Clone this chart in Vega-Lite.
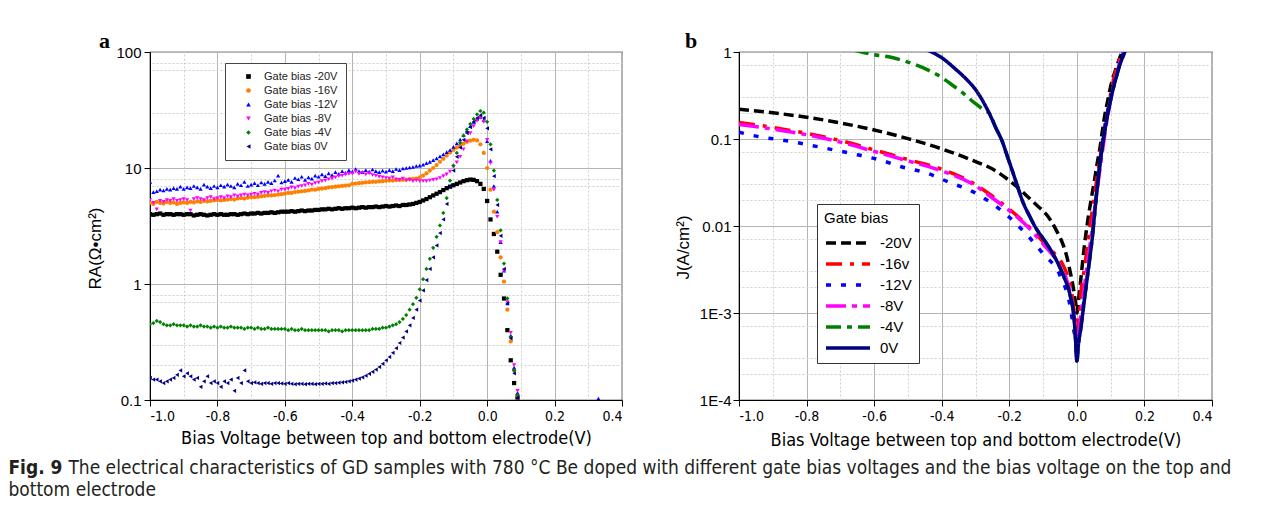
{
"$schema":"https://vega.github.io/schema/vega-lite/v6.json",
"background":"white",
"padding":{"left":8,"top":29,"right":4,"bottom":4},
"config":{
 "view":{"stroke":"black","strokeWidth":1.2},
 "axis":{"domainColor":"black","tickColor":"black","labelColor":"black","titleColor":"black","titleFontWeight":"normal","gridColor":"#b4b4b4","gridWidth":1}
},
"title":{"text":"The electrical characteristics of GD samples with 780 °C Be doped with different gate bias voltages and the bias voltage on the top and","orient":"bottom","anchor":"start","frame":"bounds","dx":60,"offset":-41,"font":"DejaVu Sans Condensed, DejaVu Sans, sans-serif","fontSize":19,"fontWeight":"normal","color":"#231f20"},
"resolve":{"scale":{"color":"independent","shape":"independent","strokeDash":"independent"},"legend":{"color":"independent","shape":"independent","strokeDash":"independent"}},
"datasets":{
"ra":[
{"s":"-20V","x":-1,"y":4.0},{"s":"-20V","x":-0.99,"y":3.95},{"s":"-20V","x":-0.98,"y":4.0},{"s":"-20V","x":-0.97,"y":4.05},{"s":"-20V","x":-0.96,"y":3.95},{"s":"-20V","x":-0.95,"y":4.0},{"s":"-20V","x":-0.94,"y":4.0},{"s":"-20V","x":-0.93,"y":3.95},{"s":"-20V","x":-0.92,"y":4.0},{"s":"-20V","x":-0.91,"y":4.0},
{"s":"-20V","x":-0.9,"y":3.95},{"s":"-20V","x":-0.89,"y":4.0},{"s":"-20V","x":-0.88,"y":4.0},{"s":"-20V","x":-0.87,"y":3.9},{"s":"-20V","x":-0.86,"y":3.95},{"s":"-20V","x":-0.85,"y":4.0},{"s":"-20V","x":-0.84,"y":3.95},{"s":"-20V","x":-0.83,"y":3.9},{"s":"-20V","x":-0.82,"y":3.95},{"s":"-20V","x":-0.81,"y":4.0},
{"s":"-20V","x":-0.8,"y":3.95},{"s":"-20V","x":-0.79,"y":4.0},{"s":"-20V","x":-0.78,"y":3.95},{"s":"-20V","x":-0.77,"y":3.95},{"s":"-20V","x":-0.76,"y":4.0},{"s":"-20V","x":-0.75,"y":4.0},{"s":"-20V","x":-0.74,"y":3.95},{"s":"-20V","x":-0.73,"y":4.0},{"s":"-20V","x":-0.72,"y":4.05},{"s":"-20V","x":-0.71,"y":4.0},
{"s":"-20V","x":-0.7,"y":4.05},{"s":"-20V","x":-0.69,"y":4.05},{"s":"-20V","x":-0.68,"y":4.1},{"s":"-20V","x":-0.67,"y":4.05},{"s":"-20V","x":-0.66,"y":4.1},{"s":"-20V","x":-0.65,"y":4.1},{"s":"-20V","x":-0.64,"y":4.15},{"s":"-20V","x":-0.63,"y":4.1},{"s":"-20V","x":-0.62,"y":4.15},{"s":"-20V","x":-0.61,"y":4.2},
{"s":"-20V","x":-0.6,"y":4.2},{"s":"-20V","x":-0.59,"y":4.2},{"s":"-20V","x":-0.58,"y":4.25},{"s":"-20V","x":-0.57,"y":4.2},{"s":"-20V","x":-0.56,"y":4.25},{"s":"-20V","x":-0.55,"y":4.3},{"s":"-20V","x":-0.54,"y":4.25},{"s":"-20V","x":-0.53,"y":4.3},{"s":"-20V","x":-0.52,"y":4.3},{"s":"-20V","x":-0.51,"y":4.35},
{"s":"-20V","x":-0.5,"y":4.35},{"s":"-20V","x":-0.49,"y":4.4},{"s":"-20V","x":-0.48,"y":4.4},{"s":"-20V","x":-0.47,"y":4.45},{"s":"-20V","x":-0.46,"y":4.4},{"s":"-20V","x":-0.45,"y":4.45},{"s":"-20V","x":-0.44,"y":4.5},{"s":"-20V","x":-0.43,"y":4.45},{"s":"-20V","x":-0.42,"y":4.5},{"s":"-20V","x":-0.41,"y":4.5},
{"s":"-20V","x":-0.4,"y":4.55},{"s":"-20V","x":-0.39,"y":4.5},{"s":"-20V","x":-0.38,"y":4.55},{"s":"-20V","x":-0.37,"y":4.6},{"s":"-20V","x":-0.36,"y":4.55},{"s":"-20V","x":-0.35,"y":4.6},{"s":"-20V","x":-0.34,"y":4.6},{"s":"-20V","x":-0.33,"y":4.65},{"s":"-20V","x":-0.32,"y":4.6},{"s":"-20V","x":-0.31,"y":4.65},
{"s":"-20V","x":-0.3,"y":4.7},{"s":"-20V","x":-0.29,"y":4.65},{"s":"-20V","x":-0.28,"y":4.7},{"s":"-20V","x":-0.27,"y":4.75},{"s":"-20V","x":-0.26,"y":4.7},{"s":"-20V","x":-0.25,"y":4.8},{"s":"-20V","x":-0.24,"y":4.8},{"s":"-20V","x":-0.23,"y":4.85},{"s":"-20V","x":-0.22,"y":4.9},{"s":"-20V","x":-0.21,"y":5.0},
{"s":"-20V","x":-0.2,"y":5.1},{"s":"-20V","x":-0.19,"y":5.25},{"s":"-20V","x":-0.18,"y":5.4},{"s":"-20V","x":-0.17,"y":5.6},{"s":"-20V","x":-0.16,"y":5.8},{"s":"-20V","x":-0.15,"y":6.0},{"s":"-20V","x":-0.14,"y":6.2},{"s":"-20V","x":-0.13,"y":6.45},{"s":"-20V","x":-0.12,"y":6.7},{"s":"-20V","x":-0.11,"y":6.9},
{"s":"-20V","x":-0.1,"y":7.1},{"s":"-20V","x":-0.09,"y":7.3},{"s":"-20V","x":-0.08,"y":7.5},{"s":"-20V","x":-0.07,"y":7.7},{"s":"-20V","x":-0.06,"y":7.85},{"s":"-20V","x":-0.05,"y":7.95},{"s":"-20V","x":-0.04,"y":7.9},{"s":"-20V","x":-0.03,"y":7.7},{"s":"-20V","x":-0.02,"y":7.3},{"s":"-20V","x":-0.01,"y":6.6},
{"s":"-20V","x":0,"y":5.2},{"s":"-20V","x":0.01,"y":3.6},{"s":"-20V","x":0.02,"y":2.7},{"s":"-20V","x":0.03,"y":1.9},{"s":"-20V","x":0.04,"y":1.2},{"s":"-20V","x":0.05,"y":0.75},{"s":"-20V","x":0.06,"y":0.4},{"s":"-20V","x":0.07,"y":0.22},{"s":"-20V","x":0.08,"y":0.14},{"s":"-20V","x":0.09,"y":0.105},
{"s":"-16V","x":-1,"y":5.0},{"s":"-16V","x":-0.99,"y":4.9},{"s":"-16V","x":-0.98,"y":5.1},{"s":"-16V","x":-0.97,"y":5.0},{"s":"-16V","x":-0.96,"y":4.95},{"s":"-16V","x":-0.95,"y":5.1},{"s":"-16V","x":-0.94,"y":5.0},{"s":"-16V","x":-0.93,"y":5.05},{"s":"-16V","x":-0.92,"y":4.9},{"s":"-16V","x":-0.91,"y":5.0},
{"s":"-16V","x":-0.9,"y":5.05},{"s":"-16V","x":-0.89,"y":5.0},{"s":"-16V","x":-0.88,"y":5.1},{"s":"-16V","x":-0.87,"y":5.05},{"s":"-16V","x":-0.86,"y":5.15},{"s":"-16V","x":-0.85,"y":5.1},{"s":"-16V","x":-0.84,"y":5.2},{"s":"-16V","x":-0.83,"y":5.15},{"s":"-16V","x":-0.82,"y":5.2},{"s":"-16V","x":-0.81,"y":5.25},
{"s":"-16V","x":-0.8,"y":5.3},{"s":"-16V","x":-0.79,"y":5.25},{"s":"-16V","x":-0.78,"y":5.3},{"s":"-16V","x":-0.77,"y":5.35},{"s":"-16V","x":-0.76,"y":5.4},{"s":"-16V","x":-0.75,"y":5.35},{"s":"-16V","x":-0.74,"y":5.45},{"s":"-16V","x":-0.73,"y":5.5},{"s":"-16V","x":-0.72,"y":5.45},{"s":"-16V","x":-0.71,"y":5.55},
{"s":"-16V","x":-0.7,"y":5.6},{"s":"-16V","x":-0.69,"y":5.6},{"s":"-16V","x":-0.68,"y":5.65},{"s":"-16V","x":-0.67,"y":5.7},{"s":"-16V","x":-0.66,"y":5.75},{"s":"-16V","x":-0.65,"y":5.8},{"s":"-16V","x":-0.64,"y":5.8},{"s":"-16V","x":-0.63,"y":5.85},{"s":"-16V","x":-0.62,"y":5.9},{"s":"-16V","x":-0.61,"y":5.95},
{"s":"-16V","x":-0.6,"y":6.0},{"s":"-16V","x":-0.59,"y":6.1},{"s":"-16V","x":-0.58,"y":6.1},{"s":"-16V","x":-0.57,"y":6.2},{"s":"-16V","x":-0.56,"y":6.25},{"s":"-16V","x":-0.55,"y":6.3},{"s":"-16V","x":-0.54,"y":6.35},{"s":"-16V","x":-0.53,"y":6.4},{"s":"-16V","x":-0.52,"y":6.5},{"s":"-16V","x":-0.51,"y":6.5},
{"s":"-16V","x":-0.5,"y":6.6},{"s":"-16V","x":-0.49,"y":6.65},{"s":"-16V","x":-0.48,"y":6.7},{"s":"-16V","x":-0.47,"y":6.8},{"s":"-16V","x":-0.46,"y":6.85},{"s":"-16V","x":-0.45,"y":6.9},{"s":"-16V","x":-0.44,"y":6.95},{"s":"-16V","x":-0.43,"y":7.0},{"s":"-16V","x":-0.42,"y":7.05},{"s":"-16V","x":-0.41,"y":7.1},
{"s":"-16V","x":-0.4,"y":7.3},{"s":"-16V","x":-0.39,"y":7.35},{"s":"-16V","x":-0.38,"y":7.4},{"s":"-16V","x":-0.37,"y":7.45},{"s":"-16V","x":-0.36,"y":7.5},{"s":"-16V","x":-0.35,"y":7.55},{"s":"-16V","x":-0.34,"y":7.6},{"s":"-16V","x":-0.33,"y":7.6},{"s":"-16V","x":-0.32,"y":7.65},{"s":"-16V","x":-0.31,"y":7.7},
{"s":"-16V","x":-0.3,"y":7.75},{"s":"-16V","x":-0.29,"y":7.8},{"s":"-16V","x":-0.28,"y":7.8},{"s":"-16V","x":-0.27,"y":7.85},{"s":"-16V","x":-0.26,"y":7.9},{"s":"-16V","x":-0.25,"y":7.9},{"s":"-16V","x":-0.24,"y":7.95},{"s":"-16V","x":-0.23,"y":8.0},{"s":"-16V","x":-0.22,"y":8.05},{"s":"-16V","x":-0.21,"y":8.1},
{"s":"-16V","x":-0.2,"y":8.3},{"s":"-16V","x":-0.19,"y":8.6},{"s":"-16V","x":-0.18,"y":9.0},{"s":"-16V","x":-0.17,"y":9.5},{"s":"-16V","x":-0.16,"y":10.0},{"s":"-16V","x":-0.15,"y":10.6},{"s":"-16V","x":-0.14,"y":11.3},{"s":"-16V","x":-0.13,"y":12.0},{"s":"-16V","x":-0.12,"y":12.8},{"s":"-16V","x":-0.11,"y":13.6},
{"s":"-16V","x":-0.1,"y":14.3},{"s":"-16V","x":-0.09,"y":15.0},{"s":"-16V","x":-0.08,"y":15.6},{"s":"-16V","x":-0.07,"y":16.2},{"s":"-16V","x":-0.06,"y":16.8},{"s":"-16V","x":-0.05,"y":17.2},{"s":"-16V","x":-0.04,"y":17.5},{"s":"-16V","x":-0.03,"y":17.3},{"s":"-16V","x":-0.02,"y":16.0},{"s":"-16V","x":-0.01,"y":13.5},
{"s":"-16V","x":0,"y":10.0},{"s":"-16V","x":0.01,"y":6.5},{"s":"-16V","x":0.02,"y":4.2},{"s":"-16V","x":0.03,"y":2.8},{"s":"-16V","x":0.04,"y":1.7},{"s":"-16V","x":0.05,"y":1.05},{"s":"-16V","x":0.06,"y":0.6},{"s":"-16V","x":0.07,"y":0.32},{"s":"-16V","x":0.08,"y":0.18},{"s":"-16V","x":0.09,"y":0.11},
{"s":"-12V","x":-1,"y":7.6},{"s":"-12V","x":-0.99,"y":6.2},{"s":"-12V","x":-0.98,"y":6.3},{"s":"-12V","x":-0.97,"y":6.5},{"s":"-12V","x":-0.96,"y":6.4},{"s":"-12V","x":-0.95,"y":6.6},{"s":"-12V","x":-0.94,"y":6.5},{"s":"-12V","x":-0.93,"y":6.7},{"s":"-12V","x":-0.92,"y":6.6},{"s":"-12V","x":-0.91,"y":6.9},
{"s":"-12V","x":-0.9,"y":6.6},{"s":"-12V","x":-0.89,"y":6.8},{"s":"-12V","x":-0.88,"y":6.7},{"s":"-12V","x":-0.87,"y":7.0},{"s":"-12V","x":-0.86,"y":6.8},{"s":"-12V","x":-0.85,"y":6.6},{"s":"-12V","x":-0.84,"y":7.2},{"s":"-12V","x":-0.83,"y":6.9},{"s":"-12V","x":-0.82,"y":6.7},{"s":"-12V","x":-0.81,"y":7.0},
{"s":"-12V","x":-0.8,"y":6.8},{"s":"-12V","x":-0.79,"y":7.1},{"s":"-12V","x":-0.78,"y":6.9},{"s":"-12V","x":-0.77,"y":7.2},{"s":"-12V","x":-0.76,"y":7.0},{"s":"-12V","x":-0.75,"y":6.8},{"s":"-12V","x":-0.74,"y":7.3},{"s":"-12V","x":-0.73,"y":7.1},{"s":"-12V","x":-0.72,"y":7.6},{"s":"-12V","x":-0.71,"y":7.0},
{"s":"-12V","x":-0.7,"y":7.2},{"s":"-12V","x":-0.69,"y":7.4},{"s":"-12V","x":-0.68,"y":7.1},{"s":"-12V","x":-0.67,"y":7.5},{"s":"-12V","x":-0.66,"y":7.3},{"s":"-12V","x":-0.65,"y":7.6},{"s":"-12V","x":-0.64,"y":7.4},{"s":"-12V","x":-0.63,"y":7.8},{"s":"-12V","x":-0.62,"y":8.6},{"s":"-12V","x":-0.61,"y":7.5},
{"s":"-12V","x":-0.6,"y":7.7},{"s":"-12V","x":-0.59,"y":7.9},{"s":"-12V","x":-0.58,"y":7.6},{"s":"-12V","x":-0.57,"y":8.2},{"s":"-12V","x":-0.56,"y":8.0},{"s":"-12V","x":-0.55,"y":8.4},{"s":"-12V","x":-0.54,"y":7.9},{"s":"-12V","x":-0.53,"y":8.3},{"s":"-12V","x":-0.52,"y":8.1},{"s":"-12V","x":-0.51,"y":8.6},
{"s":"-12V","x":-0.5,"y":8.4},{"s":"-12V","x":-0.49,"y":8.8},{"s":"-12V","x":-0.48,"y":8.5},{"s":"-12V","x":-0.47,"y":9.0},{"s":"-12V","x":-0.46,"y":8.7},{"s":"-12V","x":-0.45,"y":9.2},{"s":"-12V","x":-0.44,"y":8.9},{"s":"-12V","x":-0.43,"y":9.4},{"s":"-12V","x":-0.42,"y":9.1},{"s":"-12V","x":-0.41,"y":9.6},
{"s":"-12V","x":-0.4,"y":9.3},{"s":"-12V","x":-0.39,"y":9.8},{"s":"-12V","x":-0.38,"y":9.4},{"s":"-12V","x":-0.37,"y":9.2},{"s":"-12V","x":-0.36,"y":9.6},{"s":"-12V","x":-0.35,"y":9.3},{"s":"-12V","x":-0.34,"y":9.7},{"s":"-12V","x":-0.33,"y":9.4},{"s":"-12V","x":-0.32,"y":9.2},{"s":"-12V","x":-0.31,"y":9.5},
{"s":"-12V","x":-0.3,"y":9.3},{"s":"-12V","x":-0.29,"y":9.6},{"s":"-12V","x":-0.28,"y":9.4},{"s":"-12V","x":-0.27,"y":9.8},{"s":"-12V","x":-0.26,"y":9.6},{"s":"-12V","x":-0.25,"y":9.9},{"s":"-12V","x":-0.24,"y":10.0},{"s":"-12V","x":-0.23,"y":10.1},{"s":"-12V","x":-0.22,"y":10.2},{"s":"-12V","x":-0.21,"y":10.4},
{"s":"-12V","x":-0.2,"y":10.5},{"s":"-12V","x":-0.19,"y":10.7},{"s":"-12V","x":-0.18,"y":11.0},{"s":"-12V","x":-0.17,"y":11.3},{"s":"-12V","x":-0.16,"y":11.7},{"s":"-12V","x":-0.15,"y":12.1},{"s":"-12V","x":-0.14,"y":12.6},{"s":"-12V","x":-0.13,"y":13.1},{"s":"-12V","x":-0.12,"y":13.7},{"s":"-12V","x":-0.11,"y":14.3},
{"s":"-12V","x":-0.1,"y":15.2},{"s":"-12V","x":-0.09,"y":16.3},{"s":"-12V","x":-0.08,"y":17.6},{"s":"-12V","x":-0.07,"y":19.2},{"s":"-12V","x":-0.06,"y":21.0},{"s":"-12V","x":-0.05,"y":23.0},{"s":"-12V","x":-0.04,"y":25.0},{"s":"-12V","x":-0.03,"y":26.5},{"s":"-12V","x":-0.02,"y":27.5},{"s":"-12V","x":-0.01,"y":26.0},
{"s":"-12V","x":0,"y":17.0},{"s":"-12V","x":0.01,"y":11.5},{"s":"-12V","x":0.02,"y":7.0},{"s":"-12V","x":0.03,"y":4.2},{"s":"-12V","x":0.04,"y":2.3},{"s":"-12V","x":0.05,"y":1.3},{"s":"-12V","x":0.06,"y":0.68},{"s":"-12V","x":0.07,"y":0.36},{"s":"-12V","x":0.08,"y":0.19},{"s":"-12V","x":0.09,"y":0.115},{"s":"-12V","x":0.33,"y":0.103},
{"s":"-8V","x":-1,"y":5.3},{"s":"-8V","x":-0.99,"y":5.0},{"s":"-8V","x":-0.98,"y":4.4},{"s":"-8V","x":-0.97,"y":5.2},{"s":"-8V","x":-0.96,"y":5.1},{"s":"-8V","x":-0.95,"y":5.3},{"s":"-8V","x":-0.94,"y":5.2},{"s":"-8V","x":-0.93,"y":5.4},{"s":"-8V","x":-0.92,"y":5.2},{"s":"-8V","x":-0.91,"y":5.3},
{"s":"-8V","x":-0.9,"y":5.4},{"s":"-8V","x":-0.89,"y":5.3},{"s":"-8V","x":-0.88,"y":4.3},{"s":"-8V","x":-0.87,"y":5.4},{"s":"-8V","x":-0.86,"y":5.5},{"s":"-8V","x":-0.85,"y":5.4},{"s":"-8V","x":-0.84,"y":5.3},{"s":"-8V","x":-0.83,"y":5.5},{"s":"-8V","x":-0.82,"y":5.6},{"s":"-8V","x":-0.81,"y":5.4},
{"s":"-8V","x":-0.8,"y":5.5},{"s":"-8V","x":-0.79,"y":5.6},{"s":"-8V","x":-0.78,"y":5.5},{"s":"-8V","x":-0.77,"y":5.7},{"s":"-8V","x":-0.76,"y":5.6},{"s":"-8V","x":-0.75,"y":5.8},{"s":"-8V","x":-0.74,"y":5.7},{"s":"-8V","x":-0.73,"y":5.8},{"s":"-8V","x":-0.72,"y":5.9},{"s":"-8V","x":-0.71,"y":5.8},
{"s":"-8V","x":-0.7,"y":5.9},{"s":"-8V","x":-0.69,"y":6.0},{"s":"-8V","x":-0.68,"y":5.9},{"s":"-8V","x":-0.67,"y":6.1},{"s":"-8V","x":-0.66,"y":6.2},{"s":"-8V","x":-0.65,"y":6.1},{"s":"-8V","x":-0.64,"y":6.3},{"s":"-8V","x":-0.63,"y":6.4},{"s":"-8V","x":-0.62,"y":6.3},{"s":"-8V","x":-0.61,"y":6.5},
{"s":"-8V","x":-0.6,"y":6.5},{"s":"-8V","x":-0.59,"y":6.6},{"s":"-8V","x":-0.58,"y":6.8},{"s":"-8V","x":-0.57,"y":6.7},{"s":"-8V","x":-0.56,"y":6.9},{"s":"-8V","x":-0.55,"y":7.0},{"s":"-8V","x":-0.54,"y":7.1},{"s":"-8V","x":-0.53,"y":7.3},{"s":"-8V","x":-0.52,"y":7.2},{"s":"-8V","x":-0.51,"y":7.4},
{"s":"-8V","x":-0.5,"y":7.5},{"s":"-8V","x":-0.49,"y":7.7},{"s":"-8V","x":-0.48,"y":7.8},{"s":"-8V","x":-0.47,"y":8.0},{"s":"-8V","x":-0.46,"y":8.1},{"s":"-8V","x":-0.45,"y":8.3},{"s":"-8V","x":-0.44,"y":8.5},{"s":"-8V","x":-0.43,"y":8.6},{"s":"-8V","x":-0.42,"y":8.8},{"s":"-8V","x":-0.41,"y":8.9},
{"s":"-8V","x":-0.4,"y":9.0},{"s":"-8V","x":-0.39,"y":9.3},{"s":"-8V","x":-0.38,"y":8.9},{"s":"-8V","x":-0.37,"y":9.1},{"s":"-8V","x":-0.36,"y":8.8},{"s":"-8V","x":-0.35,"y":9.0},{"s":"-8V","x":-0.34,"y":8.7},{"s":"-8V","x":-0.33,"y":8.6},{"s":"-8V","x":-0.32,"y":8.4},{"s":"-8V","x":-0.31,"y":8.3},
{"s":"-8V","x":-0.3,"y":8.2},{"s":"-8V","x":-0.29,"y":8.1},{"s":"-8V","x":-0.28,"y":8.3},{"s":"-8V","x":-0.27,"y":8.0},{"s":"-8V","x":-0.26,"y":7.9},{"s":"-8V","x":-0.25,"y":8.1},{"s":"-8V","x":-0.24,"y":7.8},{"s":"-8V","x":-0.23,"y":7.9},{"s":"-8V","x":-0.22,"y":7.7},{"s":"-8V","x":-0.21,"y":7.8},
{"s":"-8V","x":-0.2,"y":7.7},{"s":"-8V","x":-0.19,"y":7.7},{"s":"-8V","x":-0.18,"y":7.7},{"s":"-8V","x":-0.17,"y":7.8},{"s":"-8V","x":-0.16,"y":7.9},{"s":"-8V","x":-0.15,"y":8.0},{"s":"-8V","x":-0.14,"y":8.2},{"s":"-8V","x":-0.13,"y":8.5},{"s":"-8V","x":-0.12,"y":8.8},{"s":"-8V","x":-0.11,"y":9.3},
{"s":"-8V","x":-0.1,"y":10.2},{"s":"-8V","x":-0.09,"y":11.2},{"s":"-8V","x":-0.08,"y":12.5},{"s":"-8V","x":-0.07,"y":14.5},{"s":"-8V","x":-0.06,"y":17.0},{"s":"-8V","x":-0.05,"y":20.0},{"s":"-8V","x":-0.04,"y":23.0},{"s":"-8V","x":-0.03,"y":25.5},{"s":"-8V","x":-0.02,"y":27.0},{"s":"-8V","x":-0.01,"y":25.0},
{"s":"-8V","x":0,"y":17.5},{"s":"-8V","x":0.01,"y":11.0},{"s":"-8V","x":0.02,"y":6.5},{"s":"-8V","x":0.03,"y":3.8},{"s":"-8V","x":0.04,"y":2.3},{"s":"-8V","x":0.05,"y":1.3},{"s":"-8V","x":0.06,"y":0.7},{"s":"-8V","x":0.07,"y":0.38},{"s":"-8V","x":0.08,"y":0.2},{"s":"-8V","x":0.09,"y":0.12},
{"s":"-4V","x":-1,"y":0.45},{"s":"-4V","x":-0.99,"y":0.46},{"s":"-4V","x":-0.98,"y":0.48},{"s":"-4V","x":-0.97,"y":0.47},{"s":"-4V","x":-0.96,"y":0.45},{"s":"-4V","x":-0.95,"y":0.44},{"s":"-4V","x":-0.94,"y":0.44},{"s":"-4V","x":-0.93,"y":0.45},{"s":"-4V","x":-0.92,"y":0.44},{"s":"-4V","x":-0.91,"y":0.44},
{"s":"-4V","x":-0.9,"y":0.44},{"s":"-4V","x":-0.89,"y":0.43},{"s":"-4V","x":-0.88,"y":0.44},{"s":"-4V","x":-0.87,"y":0.43},{"s":"-4V","x":-0.86,"y":0.43},{"s":"-4V","x":-0.85,"y":0.44},{"s":"-4V","x":-0.84,"y":0.43},{"s":"-4V","x":-0.83,"y":0.43},{"s":"-4V","x":-0.82,"y":0.42},{"s":"-4V","x":-0.81,"y":0.43},
{"s":"-4V","x":-0.8,"y":0.42},{"s":"-4V","x":-0.79,"y":0.43},{"s":"-4V","x":-0.78,"y":0.42},{"s":"-4V","x":-0.77,"y":0.42},{"s":"-4V","x":-0.76,"y":0.43},{"s":"-4V","x":-0.75,"y":0.42},{"s":"-4V","x":-0.74,"y":0.42},{"s":"-4V","x":-0.73,"y":0.42},{"s":"-4V","x":-0.72,"y":0.41},{"s":"-4V","x":-0.71,"y":0.42},
{"s":"-4V","x":-0.7,"y":0.42},{"s":"-4V","x":-0.69,"y":0.41},{"s":"-4V","x":-0.68,"y":0.42},{"s":"-4V","x":-0.67,"y":0.41},{"s":"-4V","x":-0.66,"y":0.41},{"s":"-4V","x":-0.65,"y":0.42},{"s":"-4V","x":-0.64,"y":0.41},{"s":"-4V","x":-0.63,"y":0.41},{"s":"-4V","x":-0.62,"y":0.41},{"s":"-4V","x":-0.61,"y":0.41},
{"s":"-4V","x":-0.6,"y":0.41},{"s":"-4V","x":-0.59,"y":0.4},{"s":"-4V","x":-0.58,"y":0.41},{"s":"-4V","x":-0.57,"y":0.4},{"s":"-4V","x":-0.56,"y":0.4},{"s":"-4V","x":-0.55,"y":0.41},{"s":"-4V","x":-0.54,"y":0.4},{"s":"-4V","x":-0.53,"y":0.4},{"s":"-4V","x":-0.52,"y":0.4},{"s":"-4V","x":-0.51,"y":0.4},
{"s":"-4V","x":-0.5,"y":0.4},{"s":"-4V","x":-0.49,"y":0.4},{"s":"-4V","x":-0.48,"y":0.4},{"s":"-4V","x":-0.47,"y":0.39},{"s":"-4V","x":-0.46,"y":0.4},{"s":"-4V","x":-0.45,"y":0.4},{"s":"-4V","x":-0.44,"y":0.4},{"s":"-4V","x":-0.43,"y":0.39},{"s":"-4V","x":-0.42,"y":0.4},{"s":"-4V","x":-0.41,"y":0.4},
{"s":"-4V","x":-0.4,"y":0.4},{"s":"-4V","x":-0.39,"y":0.4},{"s":"-4V","x":-0.38,"y":0.4},{"s":"-4V","x":-0.37,"y":0.4},{"s":"-4V","x":-0.36,"y":0.4},{"s":"-4V","x":-0.35,"y":0.4},{"s":"-4V","x":-0.34,"y":0.41},{"s":"-4V","x":-0.33,"y":0.41},{"s":"-4V","x":-0.32,"y":0.41},{"s":"-4V","x":-0.31,"y":0.42},
{"s":"-4V","x":-0.3,"y":0.42},{"s":"-4V","x":-0.29,"y":0.43},{"s":"-4V","x":-0.28,"y":0.44},{"s":"-4V","x":-0.27,"y":0.45},{"s":"-4V","x":-0.26,"y":0.47},{"s":"-4V","x":-0.25,"y":0.5},{"s":"-4V","x":-0.24,"y":0.54},{"s":"-4V","x":-0.23,"y":0.6},{"s":"-4V","x":-0.22,"y":0.67},{"s":"-4V","x":-0.21,"y":0.76},
{"s":"-4V","x":-0.2,"y":0.9},{"s":"-4V","x":-0.19,"y":1.1},{"s":"-4V","x":-0.18,"y":1.35},{"s":"-4V","x":-0.17,"y":1.65},{"s":"-4V","x":-0.16,"y":2.05},{"s":"-4V","x":-0.15,"y":2.55},{"s":"-4V","x":-0.14,"y":3.2},{"s":"-4V","x":-0.13,"y":4.1},{"s":"-4V","x":-0.12,"y":5.5},{"s":"-4V","x":-0.11,"y":7.8},
{"s":"-4V","x":-0.1,"y":10.5},{"s":"-4V","x":-0.09,"y":13.5},{"s":"-4V","x":-0.08,"y":16.5},{"s":"-4V","x":-0.07,"y":19.0},{"s":"-4V","x":-0.06,"y":21.5},{"s":"-4V","x":-0.05,"y":24.0},{"s":"-4V","x":-0.04,"y":26.5},{"s":"-4V","x":-0.03,"y":29.0},{"s":"-4V","x":-0.02,"y":31.0},{"s":"-4V","x":-0.01,"y":30.0},
{"s":"-4V","x":0,"y":25.0},{"s":"-4V","x":0.01,"y":16.0},{"s":"-4V","x":0.02,"y":9.5},{"s":"-4V","x":0.03,"y":5.3},{"s":"-4V","x":0.04,"y":2.9},{"s":"-4V","x":0.05,"y":1.5},{"s":"-4V","x":0.06,"y":0.75},{"s":"-4V","x":0.07,"y":0.35},{"s":"-4V","x":0.08,"y":0.18},{"s":"-4V","x":0.09,"y":0.11},
{"s":"0V","x":-1,"y":0.155},{"s":"0V","x":-0.99,"y":0.15},{"s":"0V","x":-0.98,"y":0.15},{"s":"0V","x":-0.97,"y":0.145},{"s":"0V","x":-0.96,"y":0.14},{"s":"0V","x":-0.95,"y":0.145},{"s":"0V","x":-0.94,"y":0.15},{"s":"0V","x":-0.93,"y":0.155},{"s":"0V","x":-0.92,"y":0.165},{"s":"0V","x":-0.91,"y":0.18},
{"s":"0V","x":-0.9,"y":0.16},{"s":"0V","x":-0.89,"y":0.17},{"s":"0V","x":-0.88,"y":0.16},{"s":"0V","x":-0.87,"y":0.15},{"s":"0V","x":-0.86,"y":0.155},{"s":"0V","x":-0.85,"y":0.13},{"s":"0V","x":-0.84,"y":0.145},{"s":"0V","x":-0.83,"y":0.16},{"s":"0V","x":-0.82,"y":0.14},{"s":"0V","x":-0.81,"y":0.145},
{"s":"0V","x":-0.8,"y":0.14},{"s":"0V","x":-0.79,"y":0.13},{"s":"0V","x":-0.78,"y":0.145},{"s":"0V","x":-0.77,"y":0.14},{"s":"0V","x":-0.76,"y":0.15},{"s":"0V","x":-0.75,"y":0.12},{"s":"0V","x":-0.74,"y":0.155},{"s":"0V","x":-0.73,"y":0.14},{"s":"0V","x":-0.72,"y":0.18},{"s":"0V","x":-0.71,"y":0.145},
{"s":"0V","x":-0.7,"y":0.14},{"s":"0V","x":-0.69,"y":0.142},{"s":"0V","x":-0.68,"y":0.14},{"s":"0V","x":-0.67,"y":0.138},{"s":"0V","x":-0.66,"y":0.14},{"s":"0V","x":-0.65,"y":0.14},{"s":"0V","x":-0.64,"y":0.138},{"s":"0V","x":-0.63,"y":0.14},{"s":"0V","x":-0.62,"y":0.14},{"s":"0V","x":-0.61,"y":0.139},
{"s":"0V","x":-0.6,"y":0.138},{"s":"0V","x":-0.59,"y":0.14},{"s":"0V","x":-0.58,"y":0.138},{"s":"0V","x":-0.57,"y":0.137},{"s":"0V","x":-0.56,"y":0.138},{"s":"0V","x":-0.55,"y":0.138},{"s":"0V","x":-0.54,"y":0.137},{"s":"0V","x":-0.53,"y":0.138},{"s":"0V","x":-0.52,"y":0.138},{"s":"0V","x":-0.51,"y":0.137},
{"s":"0V","x":-0.5,"y":0.138},{"s":"0V","x":-0.49,"y":0.138},{"s":"0V","x":-0.48,"y":0.139},{"s":"0V","x":-0.47,"y":0.138},{"s":"0V","x":-0.46,"y":0.14},{"s":"0V","x":-0.45,"y":0.14},{"s":"0V","x":-0.44,"y":0.141},{"s":"0V","x":-0.43,"y":0.142},{"s":"0V","x":-0.42,"y":0.143},{"s":"0V","x":-0.41,"y":0.145},
{"s":"0V","x":-0.4,"y":0.147},{"s":"0V","x":-0.39,"y":0.15},{"s":"0V","x":-0.38,"y":0.153},{"s":"0V","x":-0.37,"y":0.157},{"s":"0V","x":-0.36,"y":0.162},{"s":"0V","x":-0.35,"y":0.168},{"s":"0V","x":-0.34,"y":0.175},{"s":"0V","x":-0.33,"y":0.183},{"s":"0V","x":-0.32,"y":0.193},{"s":"0V","x":-0.31,"y":0.205},
{"s":"0V","x":-0.3,"y":0.22},{"s":"0V","x":-0.29,"y":0.235},{"s":"0V","x":-0.28,"y":0.255},{"s":"0V","x":-0.27,"y":0.28},{"s":"0V","x":-0.26,"y":0.31},{"s":"0V","x":-0.25,"y":0.345},{"s":"0V","x":-0.24,"y":0.39},{"s":"0V","x":-0.23,"y":0.44},{"s":"0V","x":-0.22,"y":0.51},{"s":"0V","x":-0.21,"y":0.6},
{"s":"0V","x":-0.2,"y":0.72},{"s":"0V","x":-0.19,"y":0.88},{"s":"0V","x":-0.18,"y":1.08},{"s":"0V","x":-0.17,"y":1.35},{"s":"0V","x":-0.16,"y":1.7},{"s":"0V","x":-0.15,"y":2.15},{"s":"0V","x":-0.14,"y":2.75},{"s":"0V","x":-0.13,"y":3.6},{"s":"0V","x":-0.12,"y":4.9},{"s":"0V","x":-0.11,"y":7.0},
{"s":"0V","x":-0.1,"y":9.5},{"s":"0V","x":-0.09,"y":12.5},{"s":"0V","x":-0.08,"y":15.0},{"s":"0V","x":-0.07,"y":17.5},{"s":"0V","x":-0.06,"y":20.0},{"s":"0V","x":-0.05,"y":22.5},{"s":"0V","x":-0.04,"y":25.0},{"s":"0V","x":-0.03,"y":27.0},{"s":"0V","x":-0.02,"y":28.5},{"s":"0V","x":-0.01,"y":27.0},
{"s":"0V","x":0,"y":22.0},{"s":"0V","x":0.01,"y":14.5},{"s":"0V","x":0.02,"y":8.5},{"s":"0V","x":0.03,"y":4.8},{"s":"0V","x":0.04,"y":2.6},{"s":"0V","x":0.05,"y":1.35},{"s":"0V","x":0.06,"y":0.68},{"s":"0V","x":0.07,"y":0.34},{"s":"0V","x":0.08,"y":0.17},{"s":"0V","x":0.09,"y":0.105}
],
"j":[
{"s":"-20V","x":-1,"y":0.22},{"s":"-20V","x":-0.9,"y":0.2},{"s":"-20V","x":-0.8,"y":0.178},{"s":"-20V","x":-0.7,"y":0.153},{"s":"-20V","x":-0.6,"y":0.127},{"s":"-20V","x":-0.5,"y":0.101},{"s":"-20V","x":-0.4,"y":0.077},{"s":"-20V","x":-0.32,"y":0.059},{"s":"-20V","x":-0.24,"y":0.043},{"s":"-20V","x":-0.19,"y":0.031},{"s":"-20V","x":-0.13,"y":0.019},{"s":"-20V","x":-0.08,"y":0.012},{"s":"-20V","x":-0.06,"y":0.0088},{"s":"-20V","x":-0.04,"y":0.006},{"s":"-20V","x":-0.03,"y":0.0045},{"s":"-20V","x":-0.02,"y":0.003},{"s":"-20V","x":-0.01,"y":0.0019},{"s":"-20V","x":-0.004,"y":0.0013},{"s":"-20V","x":0,"y":0.001},{"s":"-20V","x":0.005,"y":0.0014},{"s":"-20V","x":0.01,"y":0.0021},{"s":"-20V","x":0.018,"y":0.0042},{"s":"-20V","x":0.025,"y":0.0072},{"s":"-20V","x":0.033,"y":0.012},{"s":"-20V","x":0.043,"y":0.021},{"s":"-20V","x":0.053,"y":0.035},{"s":"-20V","x":0.06,"y":0.052},{"s":"-20V","x":0.068,"y":0.077},{"s":"-20V","x":0.075,"y":0.12},{"s":"-20V","x":0.083,"y":0.19},{"s":"-20V","x":0.09,"y":0.26},{"s":"-20V","x":0.1,"y":0.4},{"s":"-20V","x":0.115,"y":0.63},{"s":"-20V","x":0.13,"y":0.92},{"s":"-20V","x":0.14,"y":1.12},
{"s":"-16v","x":-1,"y":0.155},{"s":"-16v","x":-0.9,"y":0.136},{"s":"-16v","x":-0.8,"y":0.116},{"s":"-16v","x":-0.7,"y":0.096},{"s":"-16v","x":-0.6,"y":0.075},{"s":"-16v","x":-0.5,"y":0.058},{"s":"-16v","x":-0.4,"y":0.045},{"s":"-16v","x":-0.3,"y":0.03},{"s":"-16v","x":-0.25,"y":0.022},{"s":"-16v","x":-0.19,"y":0.0145},{"s":"-16v","x":-0.15,"y":0.0105},{"s":"-16v","x":-0.1,"y":0.0066},{"s":"-16v","x":-0.07,"y":0.005},{"s":"-16v","x":-0.04,"y":0.0035},{"s":"-16v","x":-0.025,"y":0.0025},{"s":"-16v","x":-0.015,"y":0.0017},{"s":"-16v","x":-0.006,"y":0.0009},{"s":"-16v","x":0,"y":0.0006},{"s":"-16v","x":0.006,"y":0.0009},{"s":"-16v","x":0.012,"y":0.0017},{"s":"-16v","x":0.024,"y":0.0036},{"s":"-16v","x":0.033,"y":0.0068},{"s":"-16v","x":0.042,"y":0.012},{"s":"-16v","x":0.052,"y":0.022},{"s":"-16v","x":0.062,"y":0.042},{"s":"-16v","x":0.07,"y":0.065},{"s":"-16v","x":0.077,"y":0.1},{"s":"-16v","x":0.087,"y":0.16},{"s":"-16v","x":0.1,"y":0.33},{"s":"-16v","x":0.115,"y":0.6},{"s":"-16v","x":0.13,"y":0.9},{"s":"-16v","x":0.14,"y":1.12},
{"s":"-12V","x":-1,"y":0.12},{"s":"-12V","x":-0.94,"y":0.106},{"s":"-12V","x":-0.87,"y":0.097},{"s":"-12V","x":-0.79,"y":0.085},{"s":"-12V","x":-0.72,"y":0.075},{"s":"-12V","x":-0.65,"y":0.066},{"s":"-12V","x":-0.58,"y":0.057},{"s":"-12V","x":-0.52,"y":0.048},{"s":"-12V","x":-0.44,"y":0.04},{"s":"-12V","x":-0.38,"y":0.032},{"s":"-12V","x":-0.31,"y":0.025},{"s":"-12V","x":-0.25,"y":0.018},{"s":"-12V","x":-0.2,"y":0.0126},{"s":"-12V","x":-0.15,"y":0.0081},{"s":"-12V","x":-0.1,"y":0.0048},{"s":"-12V","x":-0.05,"y":0.0027},{"s":"-12V","x":-0.02,"y":0.0012},{"s":"-12V","x":-0.008,"y":0.0006},{"s":"-12V","x":0,"y":0.0004},{"s":"-12V","x":0.008,"y":0.0006},{"s":"-12V","x":0.02,"y":0.0013},{"s":"-12V","x":0.035,"y":0.0035},{"s":"-12V","x":0.05,"y":0.011},{"s":"-12V","x":0.065,"y":0.04},{"s":"-12V","x":0.08,"y":0.12},{"s":"-12V","x":0.1,"y":0.3},{"s":"-12V","x":0.12,"y":0.6},{"s":"-12V","x":0.14,"y":1.05},
{"s":"-8V","x":-1,"y":0.147},{"s":"-8V","x":-0.9,"y":0.13},{"s":"-8V","x":-0.8,"y":0.112},{"s":"-8V","x":-0.7,"y":0.092},{"s":"-8V","x":-0.6,"y":0.072},{"s":"-8V","x":-0.5,"y":0.056},{"s":"-8V","x":-0.4,"y":0.043},{"s":"-8V","x":-0.3,"y":0.029},{"s":"-8V","x":-0.25,"y":0.021},{"s":"-8V","x":-0.2,"y":0.015},{"s":"-8V","x":-0.15,"y":0.0102},{"s":"-8V","x":-0.1,"y":0.0062},{"s":"-8V","x":-0.06,"y":0.004},{"s":"-8V","x":-0.03,"y":0.0024},{"s":"-8V","x":-0.015,"y":0.0014},{"s":"-8V","x":-0.006,"y":0.0007},{"s":"-8V","x":0,"y":0.0003},{"s":"-8V","x":0.006,"y":0.0006},{"s":"-8V","x":0.015,"y":0.0012},{"s":"-8V","x":0.028,"y":0.003},{"s":"-8V","x":0.04,"y":0.0065},{"s":"-8V","x":0.05,"y":0.013},{"s":"-8V","x":0.06,"y":0.026},{"s":"-8V","x":0.07,"y":0.05},{"s":"-8V","x":0.08,"y":0.095},{"s":"-8V","x":0.09,"y":0.17},{"s":"-8V","x":0.105,"y":0.35},{"s":"-8V","x":0.12,"y":0.6},{"s":"-8V","x":0.135,"y":0.92},{"s":"-8V","x":0.145,"y":1.12},
{"s":"-4V","x":-0.66,"y":1.05},{"s":"-4V","x":-0.6,"y":0.93},{"s":"-4V","x":-0.55,"y":0.87},{"s":"-4V","x":-0.52,"y":0.81},{"s":"-4V","x":-0.48,"y":0.72},{"s":"-4V","x":-0.44,"y":0.62},{"s":"-4V","x":-0.4,"y":0.51},{"s":"-4V","x":-0.37,"y":0.42},{"s":"-4V","x":-0.34,"y":0.345},{"s":"-4V","x":-0.32,"y":0.295},{"s":"-4V","x":-0.3,"y":0.255},{"s":"-4V","x":-0.285,"y":0.23},{"s":"-4V","x":-0.27,"y":0.21},{"s":"-4V","x":-0.26,"y":0.2},{"s":"-4V","x":-0.24,"y":0.135},{"s":"-4V","x":-0.22,"y":0.092},{"s":"-4V","x":-0.205,"y":0.062},{"s":"-4V","x":-0.19,"y":0.042},{"s":"-4V","x":-0.175,"y":0.028},{"s":"-4V","x":-0.16,"y":0.019},{"s":"-4V","x":-0.14,"y":0.013},{"s":"-4V","x":-0.12,"y":0.0093},{"s":"-4V","x":-0.1,"y":0.0072},{"s":"-4V","x":-0.08,"y":0.0055},{"s":"-4V","x":-0.06,"y":0.004},{"s":"-4V","x":-0.04,"y":0.0027},{"s":"-4V","x":-0.02,"y":0.0016},{"s":"-4V","x":-0.01,"y":0.001},{"s":"-4V","x":-0.005,"y":0.0006},{"s":"-4V","x":0,"y":0.00028},{"s":"-4V","x":0.005,"y":0.00045},{"s":"-4V","x":0.01,"y":0.0006},{"s":"-4V","x":0.024,"y":0.0016},{"s":"-4V","x":0.038,"y":0.0042},{"s":"-4V","x":0.046,"y":0.0075},{"s":"-4V","x":0.053,"y":0.0145},{"s":"-4V","x":0.06,"y":0.027},{"s":"-4V","x":0.068,"y":0.05},{"s":"-4V","x":0.077,"y":0.09},{"s":"-4V","x":0.087,"y":0.157},{"s":"-4V","x":0.097,"y":0.25},{"s":"-4V","x":0.107,"y":0.37},{"s":"-4V","x":0.117,"y":0.52},{"s":"-4V","x":0.127,"y":0.71},{"s":"-4V","x":0.135,"y":0.86},{"s":"-4V","x":0.142,"y":1.0},{"s":"-4V","x":0.146,"y":1.08},
{"s":"0V","x":-0.445,"y":1.06},{"s":"0V","x":-0.43,"y":1.0},{"s":"0V","x":-0.4,"y":0.86},{"s":"0V","x":-0.36,"y":0.64},{"s":"0V","x":-0.33,"y":0.5},{"s":"0V","x":-0.3,"y":0.37},{"s":"0V","x":-0.28,"y":0.28},{"s":"0V","x":-0.26,"y":0.2},{"s":"0V","x":-0.24,"y":0.135},{"s":"0V","x":-0.22,"y":0.092},{"s":"0V","x":-0.205,"y":0.062},{"s":"0V","x":-0.19,"y":0.042},{"s":"0V","x":-0.175,"y":0.028},{"s":"0V","x":-0.16,"y":0.019},{"s":"0V","x":-0.14,"y":0.013},{"s":"0V","x":-0.12,"y":0.0093},{"s":"0V","x":-0.1,"y":0.0072},{"s":"0V","x":-0.08,"y":0.0055},{"s":"0V","x":-0.06,"y":0.004},{"s":"0V","x":-0.04,"y":0.0027},{"s":"0V","x":-0.02,"y":0.0016},{"s":"0V","x":-0.01,"y":0.001},{"s":"0V","x":-0.005,"y":0.0006},{"s":"0V","x":0,"y":0.00028},{"s":"0V","x":0.005,"y":0.00045},{"s":"0V","x":0.01,"y":0.0006},{"s":"0V","x":0.024,"y":0.0016},{"s":"0V","x":0.038,"y":0.0042},{"s":"0V","x":0.046,"y":0.0075},{"s":"0V","x":0.053,"y":0.0145},{"s":"0V","x":0.06,"y":0.027},{"s":"0V","x":0.068,"y":0.05},{"s":"0V","x":0.077,"y":0.09},{"s":"0V","x":0.087,"y":0.157},{"s":"0V","x":0.097,"y":0.25},{"s":"0V","x":0.107,"y":0.37},{"s":"0V","x":0.117,"y":0.52},{"s":"0V","x":0.127,"y":0.71},{"s":"0V","x":0.135,"y":0.86},{"s":"0V","x":0.142,"y":1.0},{"s":"0V","x":0.146,"y":1.08}
]
},
"vconcat":[
{
"title":{"text":"Fig. 9","subtitle":"bottom electrode","orient":"bottom","anchor":"start","frame":"bounds","dx":-77,"offset":9,"font":"DejaVu Sans Condensed, DejaVu Sans, sans-serif","fontSize":19,"fontWeight":"bold","color":"#231f20","subtitleFont":"DejaVu Sans Condensed, DejaVu Sans, sans-serif","subtitleFontSize":19,"subtitleColor":"#231f20","subtitlePadding":3},
"spacing":49,
"resolve":{"scale":{"color":"independent","shape":"independent","strokeDash":"independent"},"legend":{"color":"independent","shape":"independent","strokeDash":"independent"}},
"hconcat":[
{
 "width":472,"height":348,
 "title":{"text":"a","anchor":"start","frame":"bounds","dx":13,"offset":-25,"baseline":"alphabetic","font":"Liberation Serif","fontSize":22,"fontWeight":"bold","color":"black"},
 "data":{"name":"ra"},
 "layer":[
  {"mark":{"type":"point","opacity":0},
   "encoding":{
    "x":{"field":"x","type":"quantitative","scale":{"domain":[-1,0.4],"nice":false,"zero":false},"axis":{"orient":"top","values":[-0.9,-0.7,-0.5,-0.3,-0.1,0.1,0.3],"labels":false,"title":null,"grid":true,"gridDash":[2,2],"gridColor":"#cfcfcf","ticks":false,"domain":false}},
    "y":{"field":"y","type":"quantitative","scale":{"type":"log","domain":[0.1,100],"nice":false},"axis":{"orient":"right","values":[0.2,0.3,0.7,0.8,2,3,7,8,20,30,70,80],"labels":false,"title":null,"grid":true,"gridDash":[2,2],"gridColor":"#cfcfcf","ticks":false,"domain":false}}}},
  {"mark":{"type":"point","filled":true,"size":18,"opacity":1,"clip":true},
   "encoding":{
    "x":{"field":"x","type":"quantitative","scale":{"domain":[-1,0.4],"nice":false,"zero":false},"axis":{"orient":"bottom","values":[-1,-0.8,-0.6,-0.4,-0.2,0,0.2,0.4],"labelExpr":"(datum.value < 0 ? '-' : '') + format(abs(datum.value), '.1f')","title":"Bias Voltage between top and bottom electrode(V)","grid":true,"tickSize":6,"labelFont":"DejaVu Sans Condensed, DejaVu Sans, sans-serif","labelFontSize":14,"labelPadding":3,"titleFont":"DejaVu Sans Condensed, DejaVu Sans, sans-serif","titleFontSize":18,"titlePadding":6}},
    "y":{"field":"y","type":"quantitative","scale":{"type":"log","domain":[0.1,100],"nice":false},"axis":{"orient":"left","values":[0.1,1,10,100],"format":"~g","title":"RA(Ω•cm²)","grid":true,"tickSize":6,"labelFont":"Liberation Sans","labelFontSize":15,"labelPadding":3,"titleFont":"Liberation Sans","titleFontSize":17,"titleX":-46,"titleY":196}},
    "color":{"field":"s","type":"nominal","scale":{"domain":["-20V","-16V","-12V","-8V","-4V","0V"],"range":["#000000","#ff8000","#0000ff","#ff00ff","#008000","#000080"]},"legend":{"title":null,"orient":"none","legendX":75,"legendY":11,"fillColor":"white","strokeColor":"#444444","padding":8,"labelFont":"Liberation Sans","labelFontSize":11,"labelColor":"#222222","symbolSize":22,"symbolOffset":10,"labelOffset":10,"rowPadding":2,"labelExpr":"'Gate bias ' + datum.label"}},
    "shape":{"field":"s","type":"nominal","scale":{"domain":["-20V","-16V","-12V","-8V","-4V","0V"],"range":["square","circle","triangle-up","triangle-down","diamond","triangle-left"]},"legend":{"title":null,"orient":"none","legendX":75,"legendY":11,"fillColor":"white","strokeColor":"#444444","padding":8,"labelFont":"Liberation Sans","labelFontSize":11,"labelColor":"#222222","symbolSize":22,"symbolOffset":10,"labelOffset":10,"rowPadding":2,"labelExpr":"'Gate bias ' + datum.label"}}
   }}
 ],
 "resolve":{"axis":{"x":"independent","y":"independent"}}
},
{
 "width":473,"height":348,
 "title":{"text":"b","anchor":"start","frame":"bounds","dx":11,"offset":-25,"baseline":"alphabetic","font":"Liberation Serif","fontSize":22,"fontWeight":"bold","color":"black"},
 "data":{"name":"j"},
 "layer":[
  {"mark":{"type":"point","opacity":0},
   "encoding":{
    "x":{"field":"x","type":"quantitative","scale":{"domain":[-1,0.4],"nice":false,"zero":false},"axis":{"orient":"top","values":[-0.9,-0.7,-0.5,-0.3,-0.1,0.1,0.3],"labels":false,"title":null,"grid":true,"gridDash":[2,2],"gridColor":"#cfcfcf","ticks":false,"domain":false}},
    "y":{"field":"y","type":"quantitative","scale":{"type":"log","domain":[0.0001,1],"nice":false},"axis":{"orient":"right","values":[0.0002,0.0003,0.0007,0.002,0.003,0.007,0.02,0.03,0.07,0.2,0.3,0.7],"labels":false,"title":null,"grid":true,"gridDash":[2,2],"gridColor":"#cfcfcf","ticks":false,"domain":false}}}},
  {"mark":{"type":"line","strokeWidth":3.5,"clip":true,"interpolate":"monotone","strokeCap":"butt"},
   "encoding":{
    "x":{"field":"x","type":"quantitative","scale":{"domain":[-1,0.4],"nice":false,"zero":false},"axis":{"orient":"bottom","values":[-1,-0.8,-0.6,-0.4,-0.2,0,0.2,0.4],"labelExpr":"(datum.value < 0 ? '-' : '') + format(abs(datum.value), '.1f')","title":"Bias Voltage between top and bottom electrode(V)","grid":true,"tickSize":6,"labelFont":"DejaVu Sans Condensed, DejaVu Sans, sans-serif","labelFontSize":14,"labelPadding":3,"titleFont":"DejaVu Sans Condensed, DejaVu Sans, sans-serif","titleFontSize":18,"titlePadding":8}},
    "y":{"field":"y","type":"quantitative","scale":{"type":"log","domain":[0.0001,1],"nice":false},"axis":{"orient":"left","values":[0.0001,0.001,0.01,0.1,1],"labelExpr":"datum.value > 0.5 ? '1' : datum.value > 0.05 ? '0.1' : datum.value > 0.005 ? '0.01' : datum.value > 0.0005 ? '1E-3' : '1E-4'","title":"J(A/cm²)","grid":true,"tickSize":6,"labelFont":"Liberation Sans","labelFontSize":15,"labelPadding":2,"titleFont":"Liberation Sans","titleFontSize":17,"titleX":-47,"titleY":195}},
    "color":{"field":"s","type":"nominal","sort":null,"scale":{"domain":["-20V","-16v","-12V","-8V","-4V","0V"],"range":["#000000","#ff0000","#0000ff","#ff00ff","#008000","#000080"]},"legend":{"title":"Gate bias","orient":"none","legendX":78,"legendY":152,"fillColor":"white","strokeColor":"#333333","padding":7,"titleFont":"Liberation Sans","titleFontSize":15,"titleFontWeight":"normal","titleColor":"black","titlePadding":4,"labelFont":"Liberation Sans","labelFontSize":15,"labelColor":"black","symbolType":"M-2,0H2","symbolSize":484,"symbolStrokeWidth":3.5,"symbolOffset":11,"rowPadding":0,"labelOffset":19}},
    "strokeDash":{"field":"s","type":"nominal","sort":null,"scale":{"domain":["-20V","-16v","-12V","-8V","-4V","0V"],"range":[[10,5],[16,8,4,8],[5,10],[20,6,5,6],[15,6,5,6],[1,0]]},"legend":{"title":"Gate bias","orient":"none","legendX":78,"legendY":152,"fillColor":"white","strokeColor":"#333333","padding":7,"titleFont":"Liberation Sans","titleFontSize":15,"titleFontWeight":"normal","titleColor":"black","titlePadding":4,"labelFont":"Liberation Sans","labelFontSize":15,"labelColor":"black","symbolType":"M-2,0H2","symbolSize":484,"symbolStrokeWidth":3.5,"symbolOffset":11,"rowPadding":0,"labelOffset":19}}
   }}
 ],
 "resolve":{"axis":{"x":"independent","y":"independent"}}
}
]
}
]
}
